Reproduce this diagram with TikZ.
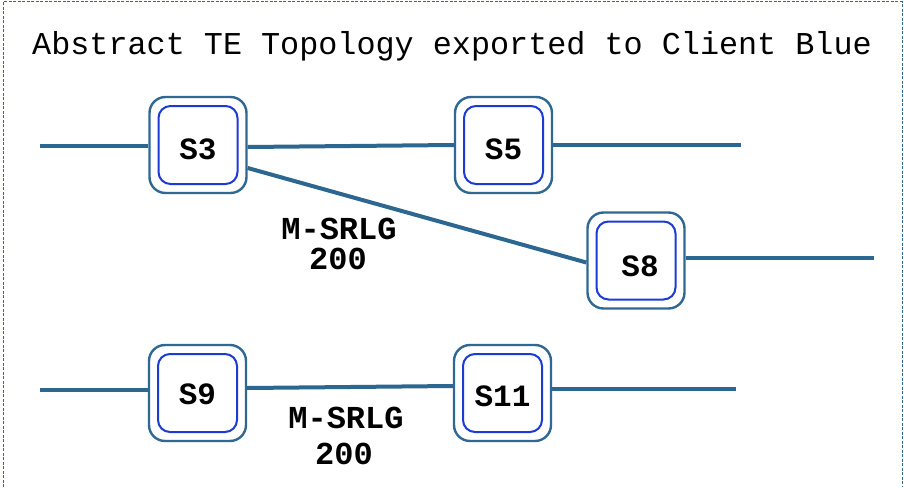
\documentclass[tikz,border=0pt]{standalone}
\usepackage{fontspec}
\setmainfont{Liberation Mono}
\definecolor{linkblue}{HTML}{2C6791}
\definecolor{framblue}{HTML}{2F6892}
\definecolor{coreblue}{HTML}{1C3AD4}
\begin{document}
\begin{tikzpicture}[x=1pt,y=-1pt,
  outerbox/.style={draw=framblue,line width=2.4pt,rounded corners=16pt,
    minimum width=97pt,minimum height=96pt,inner sep=0pt,fill=white},
  innerbox/.style={draw=coreblue,line width=2pt,rounded corners=12pt,
    minimum width=79pt,minimum height=78pt,inner sep=0pt},
  lbl/.style={font=\fontsize{31}{34}\selectfont\bfseries,inner sep=0pt},
  link/.style={draw=linkblue,line width=4pt},
  note/.style={font=\fontsize{32}{34}\selectfont\bfseries,inner sep=0pt}]
\useasboundingbox (0,0) rectangle (904,487);
% dashed frame, open at the bottom
\draw[framblue,line width=1pt,dash pattern=on 3pt off 1.5pt]
  (3,487) -- (3,2) -- (902,2) -- (902,487);
\node[anchor=base west,inner sep=0pt,font=\fontsize{31.8}{34}\selectfont] (title)
  at (32,55) {Abstract TE Topology exported to Client Blue};

% switches: outer frame, inner core, label
\foreach \n/\x/\y in {s3/198/145,s5/503.5/145,s8/636/260.5,s9/197.5/393,s11/502.5/393}{
  \node[outerbox] (\n) at (\x,\y) {};
  \node[innerbox] (\n i) at (\x,\y) {};
}
\node[lbl] (s3t)  at ([yshift=-4pt]s3)  {S3};
\node[lbl] (s5t)  at ([yshift=-4pt]s5)  {S5};
\node[lbl] (s8t)  at ([xshift=4pt,yshift=-6pt]s8) {S8};
\node[lbl] (s9t)  at ([yshift=-1pt]s9)  {S9};
\node[lbl] (s11t) at ([yshift=-3.5pt]s11) {S11};

% free link ends
\coordinate (e3) at (40,146);
\coordinate (e5) at (741,145);
\coordinate (e8) at (874,258);
\coordinate (e9) at (40,390);
\coordinate (e11) at (736,389);

% links
\draw[link] (e3) -- ([yshift=-1pt]s3.west);
\draw[link] ([yshift=-2pt]s3.east) -- (s5.west);
\draw[link] (s5.east) -- (e5);
\draw[link] ([yshift=-23pt]s3.east) -- ([yshift=-2pt]s8.west);
\draw[link] ([yshift=2.5pt]s8.east) -- (e8);
\draw[link] (e9) -- ([yshift=3pt]s9.west);
\draw[link] ([yshift=5pt]s9.east) -- ([yshift=7pt]s11.west);
\draw[link] ([yshift=4pt]s11.east) -- (e11);

% shared risk link group labels
\node[note] (m1a) at (339,229) {M-SRLG};
\node[note] (m1b) at (338,259) {200};
\node[note] (m2a) at (346,418) {M-SRLG};
\node[note] (m2b) at (344,454) {200};
\end{tikzpicture}
\end{document}
